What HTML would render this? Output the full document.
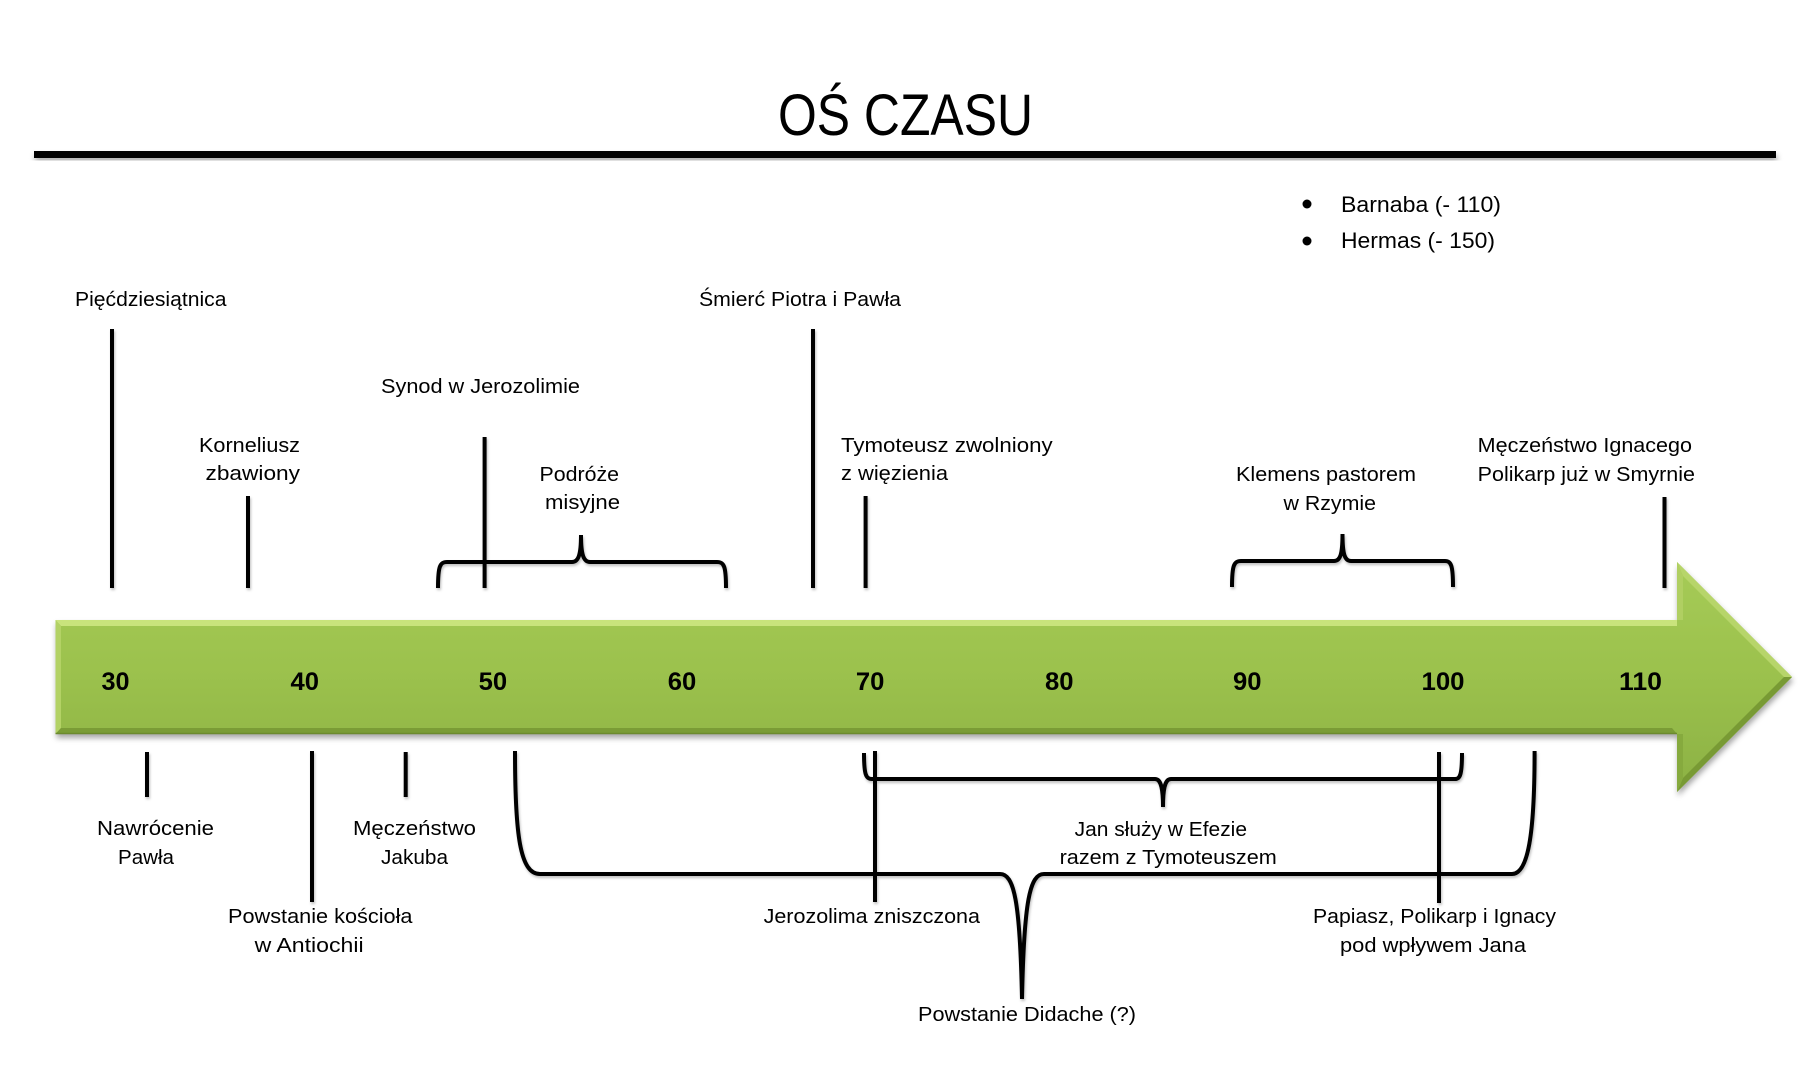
<!DOCTYPE html>
<html><head><meta charset="utf-8"><style>
html,body{margin:0;padding:0;background:#fff;}
svg{display:block;}
text{font-family:"Liberation Sans",Arial,sans-serif;fill:#000;}
.l{font-size:20px;}
.b{font-size:22.5px;}
.n{font-size:25px;font-weight:bold;}
</style></head><body>
<svg width="1809" height="1065" viewBox="0 0 1809 1065" xmlns="http://www.w3.org/2000/svg">
<defs>
<linearGradient id="g" x1="0" y1="0" x2="0" y2="1">
<stop offset="0" stop-color="#a6cb56"/>
<stop offset="0.5" stop-color="#9bc14d"/>
<stop offset="1" stop-color="#8cb143"/>
</linearGradient>
<filter id="sh" x="-5%" y="-20%" width="110%" height="150%">
<feDropShadow dx="1" dy="4" stdDeviation="3" flood-color="#000" flood-opacity="0.35"/>
</filter>
<filter id="ls" x="-5%" y="-5%" width="110%" height="110%">
<feDropShadow dx="1" dy="2" stdDeviation="1.2" flood-color="#000" flood-opacity="0.25"/>
</filter>
</defs>

<!-- title -->
<text x="778" y="135" font-size="58" textLength="255" lengthAdjust="spacingAndGlyphs">OŚ CZASU</text>
<rect x="34" y="151" width="1742" height="7" fill="#000" filter="url(#sh)"/>

<!-- bullets -->
<circle cx="1307" cy="204" r="4.5" fill="#000"/>
<circle cx="1307" cy="241" r="4.5" fill="#000"/>
<text class="b" x="1341" y="212" textLength="160" lengthAdjust="spacingAndGlyphs">Barnaba (- 110)</text>
<text class="b" x="1341" y="248" textLength="154" lengthAdjust="spacingAndGlyphs">Hermas (- 150)</text>

<!-- arrow -->
<g filter="url(#sh)">
<path d="M55.5,620 L1677,620 L1677,562 L1792,677 L1677,792 L1677,734 L55.5,734 Z" fill="url(#g)"/>
</g>
<!-- bevels -->
<polygon points="55.5,620 1677,620 1677,626 61,626" fill="#c9e37c"/>
<polygon points="55.5,620 61,626 61,728 55.5,734" fill="#b3d265"/>
<polygon points="55.5,734 61,728 1672,728 1677,734" fill="#7a9c36"/>
<polygon points="1677,562 1792,677 1784,677 1683,576" fill="#b7d56a"/>
<polygon points="1677,562 1683,576 1683,620 1677,620" fill="#b0cf62"/>
<polygon points="1792,677 1677,792 1683,778 1784,677" fill="#789a34"/>
<polygon points="1677,734 1683,734 1683,778 1677,792" fill="#86aa3e"/>
<line x1="55.5" y1="733.5" x2="1677" y2="733.5" stroke="#6c8a2e" stroke-width="1.5"/>

<!-- numbers -->
<g class="n">
<text x="101.5" y="690" textLength="28" lengthAdjust="spacingAndGlyphs">30</text>
<text x="290.5" y="690" textLength="28.5" lengthAdjust="spacingAndGlyphs">40</text>
<text x="478.6" y="690" textLength="28.5" lengthAdjust="spacingAndGlyphs">50</text>
<text x="667.8" y="690" textLength="28.5" lengthAdjust="spacingAndGlyphs">60</text>
<text x="855.9" y="690" textLength="28.5" lengthAdjust="spacingAndGlyphs">70</text>
<text x="1045" y="690" textLength="28.5" lengthAdjust="spacingAndGlyphs">80</text>
<text x="1233" y="690" textLength="28.5" lengthAdjust="spacingAndGlyphs">90</text>
<text x="1421.5" y="690" textLength="43" lengthAdjust="spacingAndGlyphs">100</text>
<text x="1619" y="690" textLength="43" lengthAdjust="spacingAndGlyphs">110</text>
</g>

<!-- connectors -->
<g stroke="#000" stroke-width="4" fill="none" filter="url(#ls)">
<line x1="112" y1="329" x2="112" y2="588"/>
<line x1="248" y1="496" x2="248" y2="588"/>
<line x1="484.6" y1="437" x2="484.6" y2="588"/>
<line x1="813" y1="329" x2="813" y2="588"/>
<line x1="865.6" y1="496" x2="865.6" y2="588"/>
<line x1="1664.5" y1="497" x2="1664.5" y2="588"/>
<path d="M438,588 C438,566 440,562 447,562 L572,562 C578,562 581,556 581,535 C581,556 584,562 590,562 L717,562 C724,562 726,566 726,588"/>
<path d="M1232,587 C1232,565 1234,561 1241,561 L1334,561 C1340,561 1342.5,555 1342.5,534 C1342.5,555 1345,561 1351,561 L1445,561 C1451,561 1453,565 1453,587"/>

<line x1="147" y1="752" x2="147" y2="797"/>
<line x1="312" y1="751" x2="312" y2="902"/>
<line x1="405.7" y1="752" x2="405.7" y2="797"/>
<line x1="875" y1="751" x2="875" y2="902"/>
<line x1="1439" y1="752" x2="1439" y2="903"/>
<path d="M864,753 C864,775 866,779 872,779 L1155,779 C1160,779 1163,785 1163,807 C1163,785 1166,779 1171,779 L1455,779 C1460,779 1462,775 1462,753"/>
<path d="M515,751 C515,835 520,874 540,874 L1000,874 C1014,874 1020,900 1022,999 C1024,900 1030,874 1044,874 L1512,874 C1528,874 1534.6,835 1534.6,751"/>
</g>

<!-- labels top -->
<g class="l">
<text x="75" y="306" textLength="151.5" lengthAdjust="spacingAndGlyphs">Pięćdziesiątnica</text>
<text x="699" y="306" textLength="202" lengthAdjust="spacingAndGlyphs">Śmierć Piotra i Pawła</text>
<text x="381" y="393" textLength="199" lengthAdjust="spacingAndGlyphs">Synod w Jerozolimie</text>
<text x="199" y="452" textLength="101" lengthAdjust="spacingAndGlyphs">Korneliusz</text>
<text x="205.5" y="480" textLength="94.5" lengthAdjust="spacingAndGlyphs">zbawiony</text>
<text x="539.5" y="481" textLength="79.5" lengthAdjust="spacingAndGlyphs">Podróże</text>
<text x="545" y="509" textLength="75" lengthAdjust="spacingAndGlyphs">misyjne</text>
<text x="841" y="452" textLength="211.6" lengthAdjust="spacingAndGlyphs">Tymoteusz zwolniony</text>
<text x="841" y="480" textLength="107" lengthAdjust="spacingAndGlyphs">z więzienia</text>
<text x="1236" y="481" textLength="180" lengthAdjust="spacingAndGlyphs">Klemens pastorem</text>
<text x="1283.5" y="510" textLength="92.5" lengthAdjust="spacingAndGlyphs">w Rzymie</text>
<text x="1477.7" y="452" textLength="214.3" lengthAdjust="spacingAndGlyphs">Męczeństwo Ignacego</text>
<text x="1477.7" y="481" textLength="217.3" lengthAdjust="spacingAndGlyphs">Polikarp już w Smyrnie</text>

<!-- labels bottom -->
<text x="97" y="835" textLength="117" lengthAdjust="spacingAndGlyphs">Nawrócenie</text>
<text x="118" y="864" textLength="56" lengthAdjust="spacingAndGlyphs">Pawła</text>
<text x="353" y="835" textLength="123" lengthAdjust="spacingAndGlyphs">Męczeństwo</text>
<text x="381" y="864" textLength="67" lengthAdjust="spacingAndGlyphs">Jakuba</text>
<text x="228" y="923" textLength="184.5" lengthAdjust="spacingAndGlyphs">Powstanie kościoła</text>
<text x="254.6" y="952" textLength="109" lengthAdjust="spacingAndGlyphs">w Antiochii</text>
<text x="763.6" y="923" textLength="216.4" lengthAdjust="spacingAndGlyphs">Jerozolima zniszczona</text>
<text x="918" y="1021" textLength="218" lengthAdjust="spacingAndGlyphs">Powstanie Didache (?)</text>
<text x="1074.6" y="836" textLength="172.4" lengthAdjust="spacingAndGlyphs">Jan służy w Efezie</text>
<text x="1059.6" y="864" textLength="217.2" lengthAdjust="spacingAndGlyphs">razem z Tymoteuszem</text>
<text x="1313" y="923" textLength="243" lengthAdjust="spacingAndGlyphs">Papiasz, Polikarp i Ignacy</text>
<text x="1340" y="952" textLength="186" lengthAdjust="spacingAndGlyphs">pod wpływem Jana</text>
</g>
</svg>
</body></html>
